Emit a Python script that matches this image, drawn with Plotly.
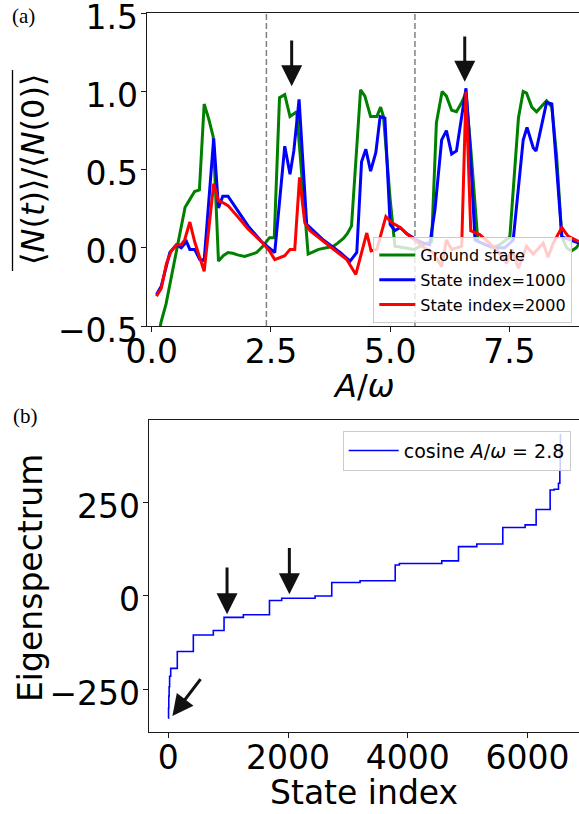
import plotly.graph_objects as go

# ---- panel (a): long-time average <N(t)>/<N(0)> versus A/omega ----
A_ground = [0.1, 0.2, 0.3, 0.4, 0.5, 0.6, 0.7, 0.8, 0.9, 1.0, 1.1, 1.2, 1.29, 1.4, 1.5, 1.6,
            1.7, 1.8, 1.95, 2.1, 2.2, 2.33, 2.47, 2.57, 2.68, 2.79, 2.9, 3.04, 3.28, 3.5,
            3.7, 3.81, 3.9, 4.02, 4.1, 4.19, 4.38, 4.47, 4.59, 4.72, 4.8, 4.86, 5.0, 5.1,
            5.3, 5.5, 5.7, 5.87, 5.97, 6.09, 6.18, 6.29, 6.39, 6.5, 6.59, 6.7, 6.84, 7.0,
            7.15, 7.3, 7.51, 7.69, 7.79, 7.86, 7.97, 8.07, 8.18, 8.28, 8.39, 8.49, 8.6,
            8.7, 8.8, 8.9, 9.0]
N_ground = [-0.62, -0.47, -0.36, -0.2, -0.04, 0.12, 0.26, 0.31, 0.36, 0.37, 0.92, 0.82, 0.71,
            -0.085, -0.05, -0.03, -0.035, -0.045, -0.055, -0.04, -0.03, 0.01, 0.065, 0.065,
            0.96, 0.98, 0.84, 0.87, -0.04, -0.01, 0.0, 0.01, 0.03, 0.06, 0.09, 0.14, 1.01,
            0.97, 0.84, 0.84, 0.9, 0.84, 0.31, 0.01, 0.0, -0.01, 0.02, 0.04, 0.8, 1.0, 0.97,
            0.88, 0.87, 0.93, 0.99, 0.6, 0.04, 0.02, 0.0, 0.02, 0.07, 0.83, 1.0, 0.99, 0.9,
            0.87, 0.91, 0.94, 0.9, 0.59, 0.07, 0.0, -0.02, 0.0, 0.04]

A_1000 = [0.1, 0.2, 0.38, 0.52, 0.62, 0.73, 0.8, 0.9, 1.01, 1.1, 1.3, 1.4, 1.49, 1.6, 1.8,
          2.02, 2.3, 2.58, 2.79, 2.9, 2.98, 3.09, 3.25, 3.6, 3.95, 4.16, 4.3, 4.4, 4.49,
          4.59, 4.7, 4.79, 4.89, 5.0, 5.1, 5.21, 5.35, 5.56, 5.7, 5.83, 5.94, 6.08, 6.18,
          6.29, 6.39, 6.59, 6.67, 6.78, 7.0, 7.2, 7.4, 7.58, 7.79, 7.87, 8.0, 8.06, 8.28,
          8.39, 8.6, 8.7, 8.8, 8.96]
N_1000 = [-0.3, -0.245, -0.03, 0.02, 0.0, 0.04, -0.01, -0.01, -0.075, -0.08, 0.7, 0.255,
          0.33, 0.33, 0.24, 0.14, 0.04, -0.03, 0.65, 0.47, 0.62, 0.95, 0.15, 0.05, -0.03,
          -0.085, -0.03, 0.55, 0.63, 0.49, 0.61, 0.84, 0.83, 0.15, 0.11, 0.13, 0.09, 0.05,
          0.03, 0.02, 0.245, 0.69, 0.75, 0.6, 0.62, 1.02, 0.67, 0.05, 0.02, 0.0, 0.0,
          0.05, 0.69, 0.77, 0.64, 0.62, 0.93, 0.92, 0.07, 0.06, 0.05, 0.03]

A_2000 = [0.1, 0.2, 0.31, 0.41, 0.52, 0.62, 0.69, 0.8, 0.9, 1.01, 1.1, 1.3, 1.4, 1.49, 1.6,
          1.8, 2.02, 2.3, 2.47, 2.58, 2.79, 2.9, 3.0, 3.1, 3.21, 3.32, 3.6, 3.9, 4.09, 4.28,
          4.51, 4.6, 4.72, 4.91, 5.04, 5.21, 5.35, 5.56, 5.72, 5.9, 6.08, 6.18, 6.29, 6.4,
          6.5, 6.59, 6.69, 6.88, 7.09, 7.23, 7.44, 7.55, 7.69, 7.86, 8.0, 8.21, 8.31, 8.42,
          8.6, 8.73, 8.96]
N_2000 = [-0.31, -0.26, -0.1, -0.02, 0.02, 0.02, 0.05, 0.165, 0.04, -0.07, -0.15, 0.41, 0.3,
          0.29, 0.27, 0.2, 0.12, 0.04, -0.02, -0.075, -0.05, -0.01, -0.01, 0.45, 0.16, 0.11,
          0.04, -0.03, -0.075, -0.17, 0.095, -0.02, -0.01, 0.2, 0.16, 0.13, 0.09, 0.04, 0.0,
          -0.03, -0.12, 0.05, -0.01, 0.0, 0.01, 1.0, 0.11, 0.085, 0.03, -0.01, -0.1, -0.01,
          -0.13, 0.01, -0.04, 0.03, -0.06, 0.03, 0.13, 0.075, 0.04]

# first two zeros of J0 (dashed guides)
j0_zeros = [2.405, 5.520]

# arrows in (a): tail -> tip
arrows_a = [((2.935, 1.335), (2.935, 1.007)),
            ((6.564, 1.361), (6.564, 1.036))]

# ---- panel (b): sorted eigenvalues, cosine drive at A/omega = 2.8 ----
state_index = [0, 4, 8, 14, 22, 40, 150, 418, 752, 931, 1254, 1690, 1894, 2451, 2730, 3203,
               3790, 3860, 4568, 4847, 5153, 5587, 5960, 6144, 6378, 6445, 6517, 6540, 6546,
               6550]
eigenvalue = [-327, -300, -268, -243, -215, -194, -149, -105, -93, -58, -51, -13, -7, -1, 35,
              40, 82, 86, 93, 131, 138, 182, 189, 230, 282, 284, 300, 335, 400, 432]

# arrows in (b): tail -> tip
arrows_b = [((981, 79), (981, -60)),
            ((2022, 131), (2022, -7)),
            ((558, -219), (28, -330))]

W, H = 579, 814
FONT = "DejaVu Sans"
AXC = "#1a1a1a"


def px2x(p):
    return p / W


def px2y(p):
    return 1 - p / H


fig = go.Figure()

fig.add_trace(go.Scatter(x=A_ground, y=N_ground, mode="lines", name="Ground state",
                         legendgroup="g", line=dict(color="#008000", width=3),
                         xaxis="x", yaxis="y"))
fig.add_trace(go.Scatter(x=A_1000, y=N_1000, mode="lines", name="State index=1000",
                         legendgroup="s1", line=dict(color="#0000ff", width=3),
                         xaxis="x", yaxis="y"))
fig.add_trace(go.Scatter(x=A_2000, y=N_2000, mode="lines", name="State index=2000",
                         legendgroup="s2", line=dict(color="#ff0000", width=3),
                         xaxis="x", yaxis="y"))

fig.add_trace(go.Scatter(x=state_index, y=eigenvalue, mode="lines", line_shape="hv",
                         name="cosine <i>A</i>/<i>ω</i> = 2.8",
                         line=dict(color="#0000ff", width=1.6), xaxis="x2", yaxis="y2",
                         legend="legend2"))

shapes = []
for z in j0_zeros:
    shapes.append(dict(type="line", xref="x", yref="y domain", x0=z, x1=z, y0=0, y1=1,
                       line=dict(color="#808080", width=1.5, dash="6px,3px"), layer="below"))
# overline of the (a) y-axis label
shapes.append(dict(type="line", xref="paper", yref="paper",
                   x0=px2x(12.5), x1=px2x(12.5), y0=px2y(271), y1=px2y(70),
                   line=dict(color="black", width=1.3)))

annotations = []


def arrow(tail, tip, xr, yr):
    return dict(x=tip[0], y=tip[1], ax=tail[0], ay=tail[1], xref=xr, yref=yr,
                axref=xr, ayref=yr, text="", showarrow=True, arrowhead=2,
                arrowsize=1.4, arrowwidth=3, arrowcolor="#111111", standoff=4)


for tail, tip in arrows_a:
    annotations.append(arrow(tail, tip, "x", "y"))
for tail, tip in arrows_b:
    annotations.append(arrow(tail, tip, "x2", "y2"))

# axis titles and panel tags
annotations += [
    dict(text="⟨<i>N</i>(<i>t</i>)⟩/⟨<i>N</i>(0)⟩", x=px2x(33), y=px2y(170), xref="paper",
         yref="paper", textangle=-90, showarrow=False, xanchor="center", yanchor="middle",
         font=dict(family=FONT, size=32, color="black")),
    dict(text="<i>A</i>/<i>ω</i>", x=px2x(363), y=px2y(386), xref="paper", yref="paper",
         showarrow=False, xanchor="center", yanchor="middle",
         font=dict(family=FONT, size=32, color="black")),
    dict(text="Eigenspectrum", x=px2x(30), y=px2y(578), xref="paper", yref="paper",
         textangle=-90, showarrow=False, xanchor="center", yanchor="middle",
         font=dict(family=FONT, size=33, color="black")),
    dict(text="State index", x=px2x(364), y=px2y(792), xref="paper", yref="paper",
         showarrow=False, xanchor="center", yanchor="middle",
         font=dict(family=FONT, size=33, color="black")),
    dict(text="(a)", x=px2x(23), y=px2y(16), xref="paper", yref="paper", showarrow=False,
         xanchor="center", yanchor="middle",
         font=dict(family="Liberation Serif", size=21, color="black")),
    dict(text="(b)", x=px2x(25), y=px2y(416), xref="paper", yref="paper", showarrow=False,
         xanchor="center", yanchor="middle",
         font=dict(family="Liberation Serif", size=21, color="black")),
]

axis_common = dict(showgrid=False, zeroline=False, showline=True, linecolor=AXC, linewidth=1,
                   ticks="outside", ticklen=5, tickwidth=1, tickcolor=AXC,
                   ticklabeloverflow="allow",
                   tickfont=dict(family=FONT, size=33, color="black"), automargin=False)

fig.update_layout(
    width=W, height=H, margin=dict(l=0, r=0, t=0, b=0), template="none",
    paper_bgcolor="white", plot_bgcolor="white",
    xaxis=dict(domain=[px2x(146.7), 1], anchor="y", range=[-0.105, 8.96],
               tickvals=[0, 2.5, 5, 7.5], ticktext=["0.0", "2.5", "5.0", "7.5"],
               mirror=True, ticklabelstandoff=-9, **axis_common),
    yaxis=dict(domain=[px2y(326.1), px2y(13.2)], anchor="x", range=[-0.5005, 1.5005],
               tickvals=[-0.5, 0, 0.5, 1.0, 1.5],
               ticktext=["−0.5", "0.0", "0.5", "1.0", "1.5"], ticklabelstandoff=-4,
               ticklabelshift=4, **axis_common),
    xaxis2=dict(domain=[px2x(148.7), 1], anchor="y2", range=[-327.5, 6860],
                tickvals=[0, 2000, 4000, 6000], ticktext=["0", "2000", "4000", "6000"],
                mirror=True, ticklabelstandoff=-9, **axis_common),
    yaxis2=dict(domain=[px2y(732), px2y(420)], anchor="x2", range=[-364, 469],
                tickvals=[-250, 0, 250], ticktext=["−250", "0", "250"], ticklabelstandoff=-4,
                ticklabelshift=4, **axis_common),
    legend=dict(x=px2x(572.3), y=px2y(323), xanchor="right", yanchor="bottom",
                bgcolor="rgba(255,255,255,0.8)", bordercolor="#cccccc", borderwidth=1,
                font=dict(family=FONT, size=16, color="black"), itemwidth=36,
                tracegroupgap=1),
    legend2=dict(x=px2x(570.7), y=px2y(430.7), xanchor="right", yanchor="top",
                 bgcolor="rgba(255,255,255,0.8)", bordercolor="#cccccc", borderwidth=1,
                 font=dict(family=FONT, size=19, color="black"), itemwidth=50),
    showlegend=True,
    shapes=shapes,
    annotations=annotations,
)

fig.write_html("out.html")
